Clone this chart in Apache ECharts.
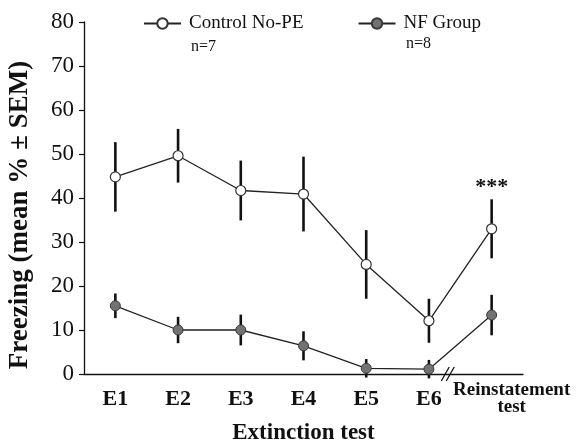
<!DOCTYPE html>
<html>
<head>
<meta charset="utf-8">
<script src="https://cdn.jsdelivr.net/npm/echarts@6/dist/echarts.min.js"></script>
<style>
  html, body { margin: 0; padding: 0; background: #fff; }
  #chart { width: 576px; height: 443px; }
</style>
</head>
<body>
<div id="chart"></div>
<script>
// values (freezing %, mean and SEM)
var categories = ['E1', 'E2', 'E3', 'E4', 'E5', 'E6', 'Reinstatement\ntest'];
var controlMean = [44.8, 49.6, 41.7, 40.9, 24.9, 12.1, 33.0];
var controlSem = [7.9, 6.1, 6.8, 8.5, 7.8, 5.0, 6.7];
var nfMean = [15.5, 10.0, 10.0, 6.4, 1.3, 1.1, 13.4];
var nfSem = [2.8, 3.0, 3.5, 3.3, 2.1, 2.1, 4.6];
var controlSig = ['', '', '', '', '', '', '***'];
var yTicks = [0, 10, 20, 30, 40, 50, 60, 70, 80];

var serif = 'Liberation Serif';

function errData(mean, sem, sig) {
    var out = [];
    for (var i = 0; i < mean.length; i++) {
        out.push([i, mean[i], sem[i], sig ? sig[i] : '']);
    }
    return out;
}

function renderErr(params, api) {
    var i = api.value(0);
    var m = api.value(1);
    var e = api.value(2);
    var top = api.coord([i, m + e]);
    var bot = api.coord([i, m - e]);
    var children = [{
        type: 'line',
        shape: { x1: top[0], y1: top[1], x2: bot[0], y2: bot[1] },
        style: { stroke: '#111', lineWidth: 2.6 }
    }];
    var sig = api.value(3);
    if (sig) {
        children.push({
            type: 'text',
            style: {
                text: sig, x: top[0], y: top[1] - 12,
                align: 'center', verticalAlign: 'middle',
                font: 'bold 22px "Liberation Serif"', fill: '#111'
            }
        });
    }
    return { type: 'group', children: children };
}

// the "//" break on the x axis between E6 and the reinstatement test
function renderBreak(params, api) {
    var p = api.coord([api.value(0), api.value(1)]);
    var bw = api.size([1, 0])[0];
    var x = p[0] + bw * 0.3;
    var y = p[1];
    var lines = [];
    [-2.5, 2.5].forEach(function (d) {
        lines.push({
            type: 'line',
            shape: { x1: x + d - 4, y1: y + 7, x2: x + d + 4, y2: y - 7 },
            style: { stroke: '#111', lineWidth: 1.3 }
        });
    });
    return { type: 'group', children: lines };
}

var chart = echarts.init(document.getElementById('chart'), null, { renderer: 'canvas' });

var option = {};
option['backgroundColor'] = '#fff';
option['animation'] = false;

option['grid'] = {
    left: 84,
    right: 53,
    top: 22,
    bottom: 69,
    containLabel: false,
    outerBoundsMode: 'none'
};

option['legend'] = {
    data: ['Control No-PE', 'NF Group'],
    left: 143,
    top: 14,
    padding: 0,
    itemWidth: 37,
    itemHeight: 13,
    itemGap: 54,
    textStyle: { fontFamily: serif, fontSize: 19, color: '#111', padding: [0, 0, 0, 3] }
};

option['xAxis'] = {
    type: 'category',
    data: categories,
    boundaryGap: true,
    name: 'Extinction test',
    nameLocation: 'middle',
    nameGap: 46,
    nameTextStyle: { fontFamily: serif, fontSize: 23, fontWeight: 'bold', color: '#111' },
    axisLine: { lineStyle: { color: '#111', width: 1.3 } },
    axisTick: { alignWithLabel: false, length: 5, lineStyle: { color: '#111', width: 1.2 } },
    axisLabel: {
        interval: 0,
        margin: 25,
        verticalAlign: 'middle',
        formatter: function (v) {
            if (v.indexOf('\n') >= 0) {
                return v.split('\n').map(function (s) { return '{r|' + s + '}'; }).join('\n');
            }
            return '{e|' + v + '}';
        },
        rich: {
            e: { fontFamily: serif, fontSize: 22, fontWeight: 'bold', color: '#111' },
            r: { fontFamily: serif, fontSize: 19, fontWeight: 'bold', color: '#111', lineHeight: 17, padding: [0, 0, 0, 40] }
        }
    }
};

option['yAxis'] = {
    type: 'value',
    min: yTicks[0],
    max: yTicks[yTicks.length - 1],
    interval: 10,
    name: 'Freezing (mean % \u00b1 SEM)',
    nameLocation: 'middle',
    nameGap: 50,
    nameTextStyle: { fontFamily: serif, fontSize: 27, fontWeight: 'bold', color: '#111', padding: [0, 34, 0, 0] },
    splitLine: { show: false },
    axisLine: { show: true, lineStyle: { color: '#111', width: 1.3 } },
    axisTick: { show: true, length: 5, lineStyle: { color: '#111', width: 1.2 } },
    axisLabel: { fontFamily: serif, fontSize: 23, color: '#111', margin: 10 }
};

option['series'] = [
    {
        type: 'custom',
        name: 'errControl',
        renderItem: renderErr,
        data: errData(controlMean, controlSem, controlSig),
        z: 1,
        silent: true
    },
    {
        type: 'custom',
        name: 'errNF',
        renderItem: renderErr,
        data: errData(nfMean, nfSem),
        z: 1,
        silent: true
    },
    {
        name: 'Control No-PE',
        type: 'line',
        data: controlMean,
        symbol: 'circle',
        symbolSize: 10,
        z: 3,
        lineStyle: { color: '#222', width: 1.3 },
        itemStyle: { color: '#fff', borderColor: '#333', borderWidth: 1.2 }
    },
    {
        name: 'NF Group',
        type: 'line',
        data: nfMean,
        symbol: 'circle',
        symbolSize: 10,
        z: 3,
        lineStyle: { color: '#222', width: 1.3 },
        itemStyle: { color: '#727272', borderColor: '#3a3a3a', borderWidth: 1 }
    },
    {
        type: 'custom',
        name: 'break',
        renderItem: renderBreak,
        data: [[5, 0]],
        z: 4,
        silent: true
    }
];

option['graphic'] = [
    { type: 'text', left: 191, top: 39, style: { text: 'n=7', font: '16px "Liberation Serif"', fill: '#111' } },
    { type: 'text', left: 406, top: 36, style: { text: 'n=8', font: '16px "Liberation Serif"', fill: '#111' } }
];

chart.setOption(option);
</script>
</body>
</html>
